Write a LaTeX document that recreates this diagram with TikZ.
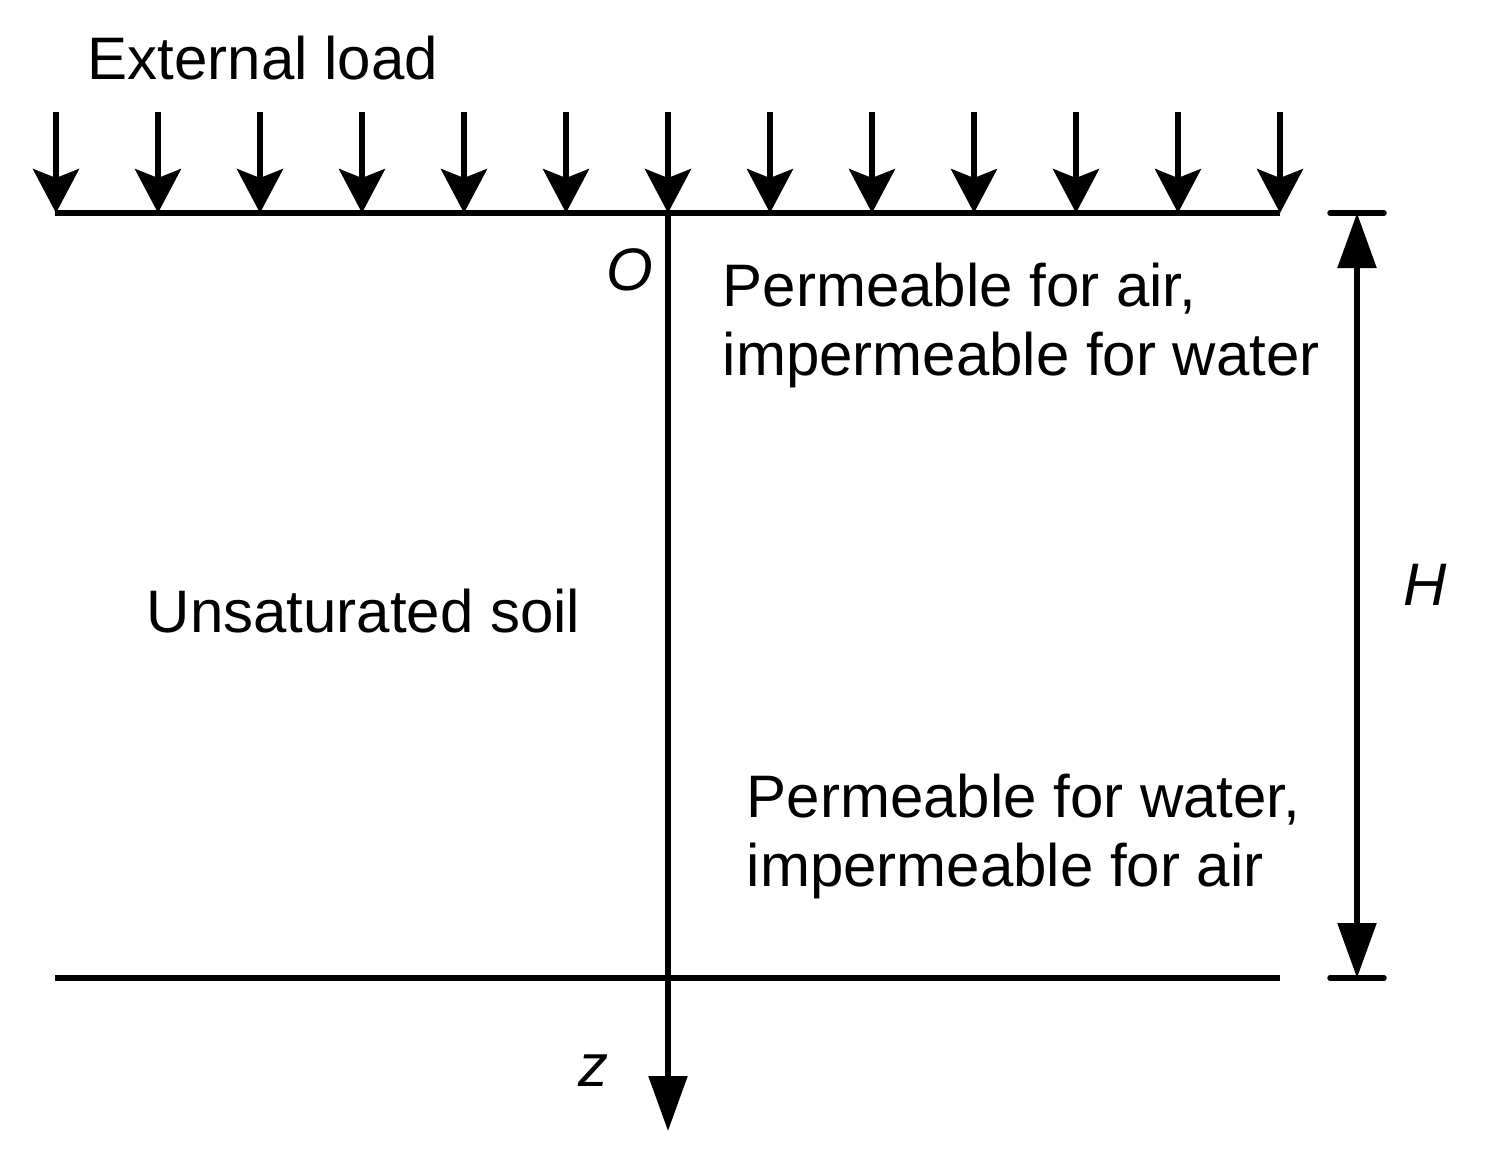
\documentclass[tikz,border=0pt]{standalone}
\usepackage{fontspec}
\setmainfont{Liberation Sans}
\usetikzlibrary{arrows.meta}
\begin{document}
\begin{tikzpicture}[x=1pt,y=-1pt,
  line width=5.5pt,
  loadtip/.tip={Stealth[length=44pt,width=46pt,inset=9pt]},
  bigtri/.tip={Triangle[length=55pt,width=38pt]},
  loadarrow/.style={-loadtip},
  lbl/.style={inner sep=0pt,font=\fontsize{60}{68}\selectfont,align=left},
]
\useasboundingbox (0,0) rectangle (1493,1156);
% surfaces
\coordinate (tl) at (55,213);
\coordinate (tr) at (1280,213);
\coordinate (bl) at (55,978);
\coordinate (br) at (1280,978);
\draw (tl) -- (tr);
\draw (bl) -- (br);
% load arrows
\foreach \i in {0,...,12}{
  \coordinate (s\i) at ({56+102*\i},112);
  \coordinate (e\i) at ({56+102*\i},213);
  \draw[loadarrow] (s\i) -- (e\i);
}
% z axis
\coordinate (o) at (668,213);
\coordinate (zend) at (668,1131);
\draw[-bigtri] (o) -- (zend);
% H dimension
\coordinate (ht1) at (1330,213);
\coordinate (ht2) at (1384,213);
\coordinate (hb1) at (1330,978);
\coordinate (hb2) at (1384,978);
\draw[line cap=round] (ht1) -- (ht2);
\draw[line cap=round] (hb1) -- (hb2);
\coordinate (hu) at (1357,213);
\coordinate (hd) at (1357,978);
\draw[bigtri-bigtri] (hu) -- (hd);
% texts
\node[lbl,anchor=base west] (ext) at (85,80) {External load};
\node[lbl,anchor=base west] (O) at (604,290) {\itshape O};
\node[lbl,anchor=base west] (top1) at (720,306) {Permeable for air,};
\node[lbl,anchor=base west] (top2) at (720,375) {impermeable for water};
\node[lbl,anchor=base west] (uns) at (144,632) {Unsaturated soil};
\node[lbl,anchor=base west] (bot1) at (744,817) {Permeable for water,};
\node[lbl,anchor=base west] (bot2) at (744,886) {impermeable for air};
\node[lbl,anchor=base west] (H) at (1401,605) {\itshape H};
\node[lbl,anchor=base west] (z) at (576,1086) {\itshape z};
\end{tikzpicture}
\end{document}
